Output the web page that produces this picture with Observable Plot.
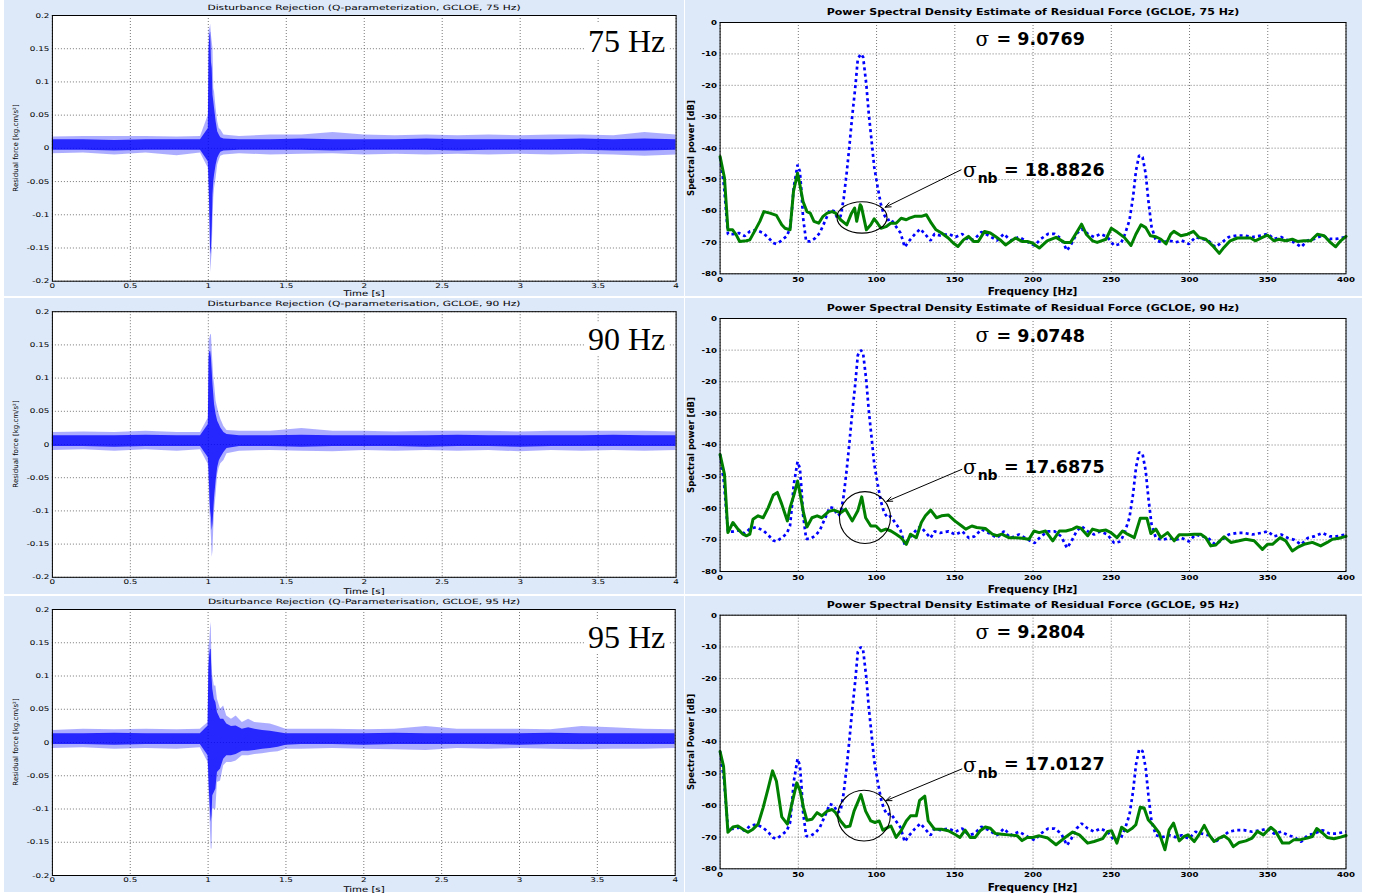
<!DOCTYPE html>
<html>
<head>
<meta charset="utf-8">
<script src="https://cdn.jsdelivr.net/npm/d3@7"></script>
<script src="https://cdn.jsdelivr.net/npm/@observablehq/plot@0.6"></script>
<style>
  body { margin: 0; background: #ffffff; }
  #root { position: relative; width: 1375px; height: 894px; overflow: hidden; background: #ffffff; }
  .lbl { position: absolute; white-space: nowrap; line-height: 1; color: #000; }
  .hzbox { position: absolute; background: #ffffff; font-family: "Liberation Serif", "DejaVu Serif", serif; font-size: 32px; line-height: 34px; padding: 0 3px; color: #000; white-space: nowrap; }
</style>
</head>
<body>
<div id="root"></div>
<script>
// ---------------- tick labels ----------------
const timeTicks  = [0, 0.5, 1, 1.5, 2, 2.5, 3, 3.5, 4];
const forceTicks = [-0.2, -0.15, -0.1, -0.05, 0, 0.05, 0.1, 0.15, 0.2];
const freqTicks  = [0, 50, 100, 150, 200, 250, 300, 350, 400];
const dbTicks    = [0, -10, -20, -30, -40, -50, -60, -70, -80];

// ---------------- texts ----------------
const leftTitles = [
  "Disturbance Rejection (Q-parameterization, GCLOE, 75 Hz)",
  "Disturbance Rejection (Q-parameterisation, GCLOE, 90 Hz)",
  "Dsiturbance Rejection (Q-Parameterisation, GCLOE, 95 Hz)"
];
const rightTitles = [
  "Power Spectral Density Estimate of Residual Force (GCLOE, 75 Hz)",
  "Power Spectral Density Estimate of Residual Force (GCLOE, 90 Hz)",
  "Power Spectral Density Estimate of Residual Force (GCLOE, 95 Hz)"
];
const hzLabels = ["75 Hz", "90 Hz", "95 Hz"];
const rightYLabels = ["Spectral power [dB]", "Spectral power [dB]", "Spectral Power [dB]"];
const sigmaValues = ["9.0769", "9.0748", "9.2804"];
const sigmaNbValues = ["18.8826", "17.6875", "17.0127"];

// ---------------- residual force envelopes (time domain) ----------------
const t75 = [0,0.2,0.4,0.6,0.8,0.95, 1.0,1.005,1.01,1.015,1.02,1.025,1.03,1.035,1.04,1.05,1.06,1.07,1.08,1.1, 1.2,1.4,1.6,1.8,2.0,2.2,2.4,2.6,2.8,3.0,3.2,3.4,3.6,3.8,4.0];
const hi75 = [0.017,0.018,0.018,0.018,0.017,0.018, 0.05,0.178,0.18,0.187,0.17,0.16,0.15,0.09,0.085,0.06,0.04,0.03,0.028,0.02, 0.018,0.02,0.02,0.024,0.02,0.019,0.02,0.019,0.02,0.019,0.02,0.02,0.019,0.024,0.02];
const lo75 = [-0.008,-0.007,-0.01,-0.007,-0.011,-0.007, -0.03,-0.07,-0.12,-0.187,-0.17,-0.155,-0.11,-0.075,-0.06,-0.045,-0.025,-0.018,-0.012,-0.01, -0.008,-0.01,-0.009,-0.008,-0.01,-0.009,-0.01,-0.009,-0.01,-0.009,-0.01,-0.009,-0.01,-0.012,-0.01];
const coreHi75 = [0.013,0.013,0.012,0.013,0.013,0.013, 0.03,0.15,0.17,0.175,0.13,0.12,0.08,0.07,0.06,0.04,0.025,0.02,0.016,0.014, 0.013,0.013,0.014,0.013,0.013,0.013,0.014,0.013,0.013,0.013,0.013,0.014,0.013,0.014,0.013];
const coreLo75 = [-0.003,-0.003,-0.004,-0.003,-0.003,-0.003, -0.02,-0.05,-0.1,-0.16,-0.15,-0.12,-0.07,-0.05,-0.04,-0.025,-0.015,-0.01,-0.006,-0.004, -0.003,-0.003,-0.003,-0.004,-0.003,-0.003,-0.003,-0.004,-0.003,-0.003,-0.003,-0.003,-0.004,-0.004,-0.003];

const t90 = [0,0.2,0.4,0.6,0.8,0.95, 1.0,1.005,1.01,1.015,1.02,1.025,1.03,1.035,1.04,1.05,1.06,1.07,1.08,1.1,1.12, 1.2,1.4,1.6,1.8,2.0,2.2,2.4,2.6,2.8,3.0,3.2,3.4,3.6,3.8,4.0];
const hi90 = [0.018,0.019,0.018,0.02,0.018,0.018, 0.04,0.156,0.16,0.165,0.166,0.14,0.121,0.1,0.091,0.065,0.055,0.045,0.038,0.027,0.021, 0.02,0.02,0.024,0.02,0.02,0.019,0.02,0.02,0.02,0.019,0.02,0.02,0.02,0.02,0.019];
const lo90 = [-0.009,-0.008,-0.01,-0.008,-0.01,-0.008, -0.03,-0.06,-0.1,-0.12,-0.14,-0.17,-0.16,-0.125,-0.1,-0.075,-0.045,-0.035,-0.029,-0.024,-0.014, -0.01,-0.009,-0.01,-0.011,-0.009,-0.01,-0.009,-0.01,-0.009,-0.011,-0.009,-0.01,-0.009,-0.01,-0.009];
const coreHi90 = [0.013,0.013,0.013,0.014,0.013,0.013, 0.03,0.13,0.14,0.14,0.13,0.11,0.09,0.075,0.06,0.045,0.035,0.03,0.025,0.018,0.015, 0.013,0.013,0.014,0.013,0.013,0.013,0.013,0.014,0.013,0.013,0.013,0.013,0.014,0.013,0.013];
const coreLo90 = [-0.003,-0.003,-0.004,-0.003,-0.003,-0.003, -0.02,-0.04,-0.08,-0.1,-0.11,-0.13,-0.12,-0.1,-0.08,-0.055,-0.035,-0.025,-0.02,-0.012,-0.006, -0.003,-0.003,-0.004,-0.003,-0.003,-0.003,-0.004,-0.003,-0.003,-0.004,-0.003,-0.003,-0.003,-0.003,-0.003];

const t95 = [0,0.2,0.4,0.6,0.8,0.95, 1.0,1.005,1.01,1.015,1.02,1.025,1.03,1.04,1.05,1.06,1.08,1.1,1.12,1.15,1.18,1.22,1.26,1.3,1.35,1.4,1.45,1.5, 1.6,1.8,2.0,2.2,2.4,2.6,2.8,3.0,3.2,3.4,3.6,3.8,4.0];
const hi95 = [0.018,0.02,0.019,0.02,0.019,0.02, 0.03,0.145,0.15,0.17,0.181,0.12,0.1,0.085,0.085,0.065,0.05,0.055,0.04,0.035,0.04,0.03,0.035,0.03,0.029,0.028,0.024,0.02, 0.02,0.02,0.019,0.02,0.024,0.02,0.02,0.02,0.019,0.024,0.022,0.02,0.019];
const lo95 = [-0.009,-0.008,-0.01,-0.009,-0.01,-0.008, -0.03,-0.07,-0.1,-0.13,-0.16,-0.16,-0.1,-0.1,-0.1,-0.06,-0.058,-0.035,-0.03,-0.03,-0.028,-0.02,-0.02,-0.018,-0.017,-0.015,-0.014,-0.01, -0.01,-0.009,-0.01,-0.011,-0.012,-0.009,-0.01,-0.009,-0.01,-0.011,-0.01,-0.01,-0.009];
const coreHi95 = [0.013,0.013,0.014,0.013,0.013,0.013, 0.025,0.11,0.13,0.14,0.14,0.1,0.08,0.065,0.06,0.045,0.035,0.035,0.028,0.024,0.025,0.02,0.022,0.02,0.018,0.017,0.015,0.013, 0.013,0.013,0.013,0.014,0.013,0.013,0.013,0.013,0.014,0.013,0.013,0.013,0.013];
const coreLo95 = [-0.003,-0.003,-0.004,-0.003,-0.003,-0.003, -0.02,-0.05,-0.08,-0.1,-0.12,-0.11,-0.08,-0.075,-0.07,-0.045,-0.04,-0.025,-0.02,-0.02,-0.018,-0.013,-0.013,-0.012,-0.01,-0.009,-0.007,-0.004, -0.003,-0.003,-0.004,-0.003,-0.003,-0.003,-0.003,-0.004,-0.003,-0.003,-0.003,-0.003,-0.003];

// ---------------- PSD: uncontrolled disturbance (blue dotted, same in all panels) ----------------
const blueFreq = [0,2.5,5,8,12,15.7,19,23,27.5,31,34,36,39,42.6,44.7,46,47,48.6,49.5,51,52,53,55,57.6,61,63.7,66,68.4,70,72.7,75,77,79,81,82.5,84.4,86.4,88,90,91.4,93.4,95,97,98.5,100.7,102.7,104.6,106.9,109,112.5,115.3,118,121,124.6,128,130.8,134.5,137,140.6,146,150.5,154.7,159,162.6,167,171.6,177,181.4,185.6,191,197,201,205,209.6,213.8,218,221.7,224.5,227.8,231,235,239,243,247.5,251.8,256,258.8,261.6,263.9,265.8,267.8,270,272,273.7,275.7,278.5,282.7,287,291,295,299.6,303.8,308,312,316.5,320.7,325,330.5,334.7,340,346,350,354,358.6,362.9,367,371.3,375.5,379.7,385,389.6,393.8,400];
const blueDb = [-43,-52,-67.4,-67.4,-67,-68,-66.5,-66,-67,-68.6,-70.2,-70.5,-69.5,-68,-65.5,-59,-52.7,-48,-45.3,-47.4,-53.8,-62,-69.7,-69.7,-68.6,-67,-64.4,-61.7,-59.6,-60,-62.3,-61.7,-56,-47.4,-40,-30,-20.6,-11.6,-10,-11,-19.5,-29,-38.6,-46,-52.4,-57.7,-61,-63,-62.5,-65,-67,-71.5,-69.4,-67.3,-65.7,-67.3,-69.4,-67.3,-67.8,-67.3,-68.3,-67.3,-69.4,-68.9,-66.7,-67.8,-69.4,-67.3,-69.4,-68.3,-70,-71,-68.9,-67.3,-67.3,-68.9,-72.6,-70.5,-67.3,-65.7,-67.3,-68.3,-67.3,-68.3,-71,-70.5,-67.3,-63,-55.6,-47.1,-42.3,-42.9,-48.2,-56.7,-65,-69.4,-70,-69.4,-70,-69.4,-70.5,-68.3,-68.9,-69.4,-71.5,-70,-68.3,-67.8,-67.8,-68.3,-67.8,-67.3,-68.9,-68.3,-69.4,-70,-71.5,-69.4,-68.9,-67.8,-68.9,-68.9,-68.3];

// ---------------- PSD: residual force with controller (green) ----------------
const green75Freq = [0,2.8,5,8,10.3,12.5,16.8,19,22,25.4,28,31.8,36,39.4,41.5,44.7,46.9,49.5,51,53,55.5,57.6,60,63,65.8,68.4,71.6,73.8,77,81,84,86,87.3,89.5,90.3,93.5,96.3,98.5,100.6,102.8,106,109,112.5,115.7,119,121,124.3,128.6,131.8,135,138,141.5,145.8,149,152,155.5,158.7,162,165,169,172.7,176,179,182.4,185.6,188.8,193,196.3,199.6,201.7,204,209,214.7,220,224,228.5,231,234,238,241,246.6,250,254,258.3,262.6,265.7,269,272,275,278.5,281.7,285,288,290,294.5,298.7,302.6,306,310.4,314.7,319,322,326,330.6,335,339,342,346.6,349.8,354,357,361.5,365.7,369,373,377.4,381.7,386,390,393.4,396.6,400];
const green75Db = [-42.7,-49.5,-66,-66,-67.6,-69.7,-69.5,-69.2,-66.5,-63.3,-60.2,-60.7,-61.4,-64.4,-65.5,-66,-53.8,-48,-51.7,-57,-60.2,-60.7,-63.3,-63.9,-61.7,-60.7,-60.2,-60.7,-62.8,-64.4,-60.7,-59.1,-63.3,-58,-58.6,-66,-64.4,-62.5,-63.9,-65.5,-65,-63.9,-63.9,-62.3,-62.8,-62.3,-61.7,-61.7,-61.2,-63.9,-66,-67,-68.6,-70.2,-71.3,-69.2,-68.1,-69.7,-69.7,-66.5,-67,-68.1,-69.2,-70.8,-69.7,-68.6,-69.7,-69.7,-70.2,-71,-71.8,-69.5,-68.4,-70,-70,-66.3,-64.2,-67.4,-69.5,-70,-69,-65.5,-66.8,-68.4,-71,-67.4,-64.4,-65.3,-67.9,-68.2,-69,-70.5,-67.4,-66.5,-67.9,-67.4,-66.5,-68.4,-69,-71,-73.5,-71.6,-69.5,-68.6,-68.6,-68.6,-69.5,-68.4,-67.7,-69.5,-69,-69.5,-69,-69.7,-69.5,-69.5,-67.4,-67.9,-70,-71.4,-69.5,-68.1];

const green90Freq = [0,2.8,5,8.2,11.4,14.6,16.8,19,21,24.3,27.5,30.8,34,36.6,39.4,43,44.7,47.3,49.5,51.2,53.3,55.5,58.7,62,65,69.5,72.7,77,80.2,84.5,88,90.5,93,96.3,99.6,102.8,106,109.2,112.5,115.7,119,121.7,125.4,128.6,131.2,134.6,138.3,141.5,145.8,150,154.4,157,160.9,164,169.5,174,177,180,184.5,188.8,193,197.4,200.6,203.9,208,212.6,216.8,221,225.3,228,230.6,234.9,238,242.3,246.6,249.8,253.6,257.2,260.4,264.7,268.5,272.8,275.3,278.5,281.7,286,290.2,293.4,298.7,303,307.2,310.4,313.6,316.8,322,326.4,331.7,336,341.3,346.6,349.8,353,357.9,361.5,365.7,369,373.2,378.5,383.8,388,391.3,395.5,400];
const green90Db = [-43,-49.3,-67.7,-64.5,-66.6,-68.2,-68.7,-68.2,-63.5,-62.4,-63,-59.8,-55.8,-55,-58.7,-64,-59.8,-55.6,-51.4,-55.6,-61.4,-65.9,-63,-62.4,-63,-61,-60.6,-61.4,-60.3,-64,-60.8,-56.4,-63,-65.6,-65.6,-67.2,-66.6,-67.2,-68.2,-69.3,-71.4,-68.2,-69.3,-64.5,-62.4,-60.6,-63,-62.4,-62.1,-64,-65.6,-66.6,-65.6,-66.1,-66.4,-68.2,-68.7,-68.2,-69.3,-69.3,-69.5,-69.8,-67.2,-67.7,-67.2,-70.3,-67.2,-67.2,-66.6,-65.9,-66.3,-68.7,-66.6,-67.2,-66.9,-67.7,-69.3,-67.2,-68.2,-69.3,-63.2,-63.2,-68,-66.6,-69.3,-67.7,-70.3,-68.4,-68.4,-68.2,-68.2,-69.3,-71.9,-71.6,-69,-70.8,-70.3,-69.8,-70.3,-73,-71.4,-71.4,-69.3,-70.3,-73.5,-72.4,-71.4,-70.8,-71.9,-70.8,-69.8,-69.5,-68.9];

const green95Freq = [0,2.2,5,8.2,11.4,14.6,17.8,21,24.3,27.5,30.8,33.5,36,39.4,43,45.8,49,51.2,53.3,55.5,58.7,62,65,68.4,71.6,73.8,77,80.2,83,85.6,90,93,96.3,99,101.7,104,107,109.2,112.5,115.7,119,121.7,125.4,127.5,130.8,133,137,141.5,145.8,150,153.3,156.6,159.8,163,166.2,169.5,172.7,176,180,184.5,190,193,196.3,199.6,204,209.4,214.7,220,225.3,229.6,234.9,239,244.5,247.7,250.2,253.6,256.6,260.4,263.6,265.7,268.5,271,273.6,277.4,280.6,284.3,287,289.8,293.4,296.6,299,303,306,309.4,312.6,315.7,319,322,325.3,328,331.7,336,340,343.4,347.2,352,355,359.4,363.6,366.8,371,375.3,378.5,381.3,385,388,392.3,396.6,400];
const green95Db = [-43,-47.7,-68.5,-66.8,-66.5,-67.5,-68.5,-67.5,-65.9,-60.7,-54.5,-49.1,-52.4,-63.6,-65.9,-59.7,-52.9,-55.5,-60.7,-64.7,-64.4,-62.3,-63.3,-61.8,-61.3,-62.3,-64.9,-66.8,-66.5,-61.8,-56.6,-61.8,-64.9,-65.4,-64.9,-67.8,-67,-66.5,-70.1,-68,-64.9,-63.3,-63.3,-58.4,-57.1,-64.9,-67.5,-67.5,-68,-69.1,-70.1,-67.8,-70.1,-70.1,-68,-66.8,-67.2,-68.9,-69.1,-69.3,-69.6,-71.1,-70.1,-70.1,-69.6,-70.3,-72.4,-70.3,-68.4,-69.3,-71.9,-71.4,-70.5,-68.2,-68,-71.9,-66.9,-68.2,-67.1,-66.1,-60.6,-60.8,-64.5,-66.6,-68.7,-74,-67.7,-65.6,-71.2,-69.8,-69.3,-71.4,-69.3,-66.3,-69.3,-71.4,-70.3,-69.6,-70.8,-73,-71.7,-71.2,-70.3,-68.2,-69.3,-66.9,-68.2,-71.9,-71.9,-70.8,-70.8,-70.3,-69.8,-67.3,-68.7,-70.1,-70.5,-70,-69.5];

// ---------------- annotations (data coordinates) ----------------
const ellipseFreq = [91, 92.9, 92.3];
const ellipseDb = [-62.2, -63.1, -63.4];
const ellipseHalfWidthHz = [16, 16.3, 16.8];
const ellipseHalfHeightDb = [5, 8.2, 8];
const arrowFromFreq = [154, 154.5, 154.5];
const arrowFromDb = [-46.9, -47.7, -48.5];
const arrowToFreq = [105.5, 106.5, 106];
const arrowToDb = [-58.8, -57.8, -58.5];

// ---------------- drawing ----------------
const root = document.getElementById("root");
const BG = "#dde8f8";

function addLabel(text, x, y, o) {
  const d = document.createElement("div");
  d.className = "lbl";
  d.textContent = text;
  d.style.left = x + "px";
  d.style.top = y + "px";
  d.style.fontFamily = o.family || '"DejaVu Sans", sans-serif';
  d.style.fontSize = o.size + "px";
  d.style.fontWeight = o.weight || "normal";
  d.style.transform = `translate(-50%,-50%)${o.rotate ? ` rotate(${o.rotate}deg)` : ""} scaleX(${o.sx || 1})`;
  root.appendChild(d);
  return d;
}

function stretchTicks(svg, sx) {
  svg.querySelectorAll('[aria-label*="axis"] text').forEach(t => {
    const tr = t.getAttribute("transform") || "";
    t.setAttribute("transform", (tr + ` scale(${sx},1)`).trim());
  });
}

const leftLayout = [
  {top: 0,   mt: 15,   mb: 15.3, mr: 8.4},
  {top: 298, mt: 13.2, mb: 17.2, mr: 8.4},
  {top: 596, mt: 13,   mb: 17,   mr: 9.3}
];
const timeSeries = [
  [t75, hi75, lo75, coreHi75, coreLo75],
  [t90, hi90, lo90, coreHi90, coreLo90],
  [t95, hi95, lo95, coreHi95, coreLo95]
];

leftLayout.forEach((L, i) => {
  const [T, H, Lo, CH, CL] = timeSeries[i];
  const rows = T.map((t, k) => ({t, hi: H[k], lo: Lo[k], ch: CH[k], cl: CL[k]}));
  const svg = Plot.plot({
    width: 680, height: 296,
    marginLeft: 47.9, marginRight: L.mr, marginTop: L.mt, marginBottom: L.mb,
    style: {background: BG, fontFamily: '"DejaVu Sans", sans-serif', fontSize: "6.5px", color: "#000", overflow: "visible"},
    x: {domain: [0, 4], ticks: timeTicks, tickFormat: d => String(d), tickSize: 0, tickPadding: 2, label: null},
    y: {domain: [-0.2, 0.2], ticks: forceTicks, tickFormat: d => String(d), tickSize: 0, tickPadding: 3, label: null},
    marks: [
      Plot.frame({fill: "#ffffff"}),
      Plot.ruleX(timeTicks, {stroke: "#555", strokeWidth: 0.8, strokeDasharray: "1,2"}),
      Plot.ruleY(forceTicks, {stroke: "#555", strokeWidth: 0.8, strokeDasharray: "1,2"}),
      Plot.areaY(rows, {x: "t", y1: "lo", y2: "hi", fill: "#0000ff", fillOpacity: 0.32}),
      Plot.areaY(rows, {x: "t", y1: "cl", y2: "ch", fill: "#0000ff", fillOpacity: 0.78}),
      Plot.frame({stroke: "#000", strokeWidth: 1})
    ]
  });
  svg.style.position = "absolute";
  svg.style.left = "4px";
  svg.style.top = L.top + "px";
  stretchTicks(svg, 1.35);
  root.appendChild(svg);

  const yTop = L.top + L.mt, yBot = L.top + 296 - L.mb;
  addLabel(leftTitles[i], 363.5, L.top + L.mt - 6.8, {size: 7.2, sx: 1.48});
  addLabel("Time [s]", 363.5, L.top + 293.5, {size: 7.8, sx: 1.3});
  addLabel("Residual force [kg.cm/s²]", 16, (yTop + yBot) / 2, {size: 7, rotate: -90});
  const hz = document.createElement("div");
  hz.className = "hzbox";
  hz.textContent = hzLabels[i];
  hz.style.left = "585px";
  hz.style.top = (L.top + 24) + "px";
  root.appendChild(hz);
});

const rightLayout = [
  {top: 0,   mt: 22,   mb: 22.7},
  {top: 298, mt: 20,   mb: 23},
  {top: 596, mt: 18.7, mb: 23.7}
];
const greenSeries = [
  [green75Freq, green75Db],
  [green90Freq, green90Db],
  [green95Freq, green95Db]
];
const blueRows = blueFreq.map((f, k) => ({f, db: blueDb[k]}));

rightLayout.forEach((R, i) => {
  const [GF, GD] = greenSeries[i];
  const greenRows = GF.map((f, k) => ({f, db: GD[k]}));
  const arrows = [{f1: arrowFromFreq[i], d1: arrowFromDb[i], f2: arrowToFreq[i], d2: arrowToDb[i]}];
  const sigmaGlyph = [{f: 163.3, d: -5.5, s: "σ"}, {f: 155.3, d: -47.3, s: "σ"}];
  const sigmaText = [{f: 176.7, d: -5.5, s: "= " + sigmaValues[i]}, {f: 181.5, d: -47.1, s: "= " + sigmaNbValues[i]}];
  const sub = [{f: 164.6, d: -49.8, s: "nb"}];
  const svg = Plot.plot({
    width: 677, height: 296,
    marginLeft: 34.6, marginRight: 16.5, marginTop: R.mt, marginBottom: R.mb,
    style: {background: BG, fontFamily: '"DejaVu Sans", sans-serif', fontSize: "7.5px", fontWeight: "bold", color: "#000", overflow: "visible"},
    x: {domain: [0, 400], ticks: freqTicks, tickFormat: d => String(d), tickSize: 0, tickPadding: 3, label: null},
    y: {domain: [-80, 0], ticks: dbTicks, tickFormat: d => String(d), tickSize: 0, tickPadding: 3, label: null},
    marks: [
      Plot.frame({fill: "#ffffff"}),
      Plot.ruleX(freqTicks, {stroke: "#555", strokeWidth: 0.8, strokeDasharray: "1,2"}),
      Plot.ruleY(dbTicks, {stroke: "#555", strokeWidth: 0.8, strokeDasharray: "1,2"}),
      Plot.line(blueRows, {x: "f", y: "db", stroke: "#0000ff", strokeWidth: 2.7, strokeDasharray: "3,3.2", strokeLinecap: "butt", strokeLinejoin: "miter"}),
      Plot.line(greenRows, {x: "f", y: "db", stroke: "#008000", strokeWidth: 3, strokeLinejoin: "round"}),
      Plot.arrow(arrows, {x1: "f1", y1: "d1", x2: "f2", y2: "d2", stroke: "#000", strokeWidth: 1, headLength: 9, headAngle: 45}),
      Plot.text(sigmaGlyph, {x: "f", y: "d", text: "s", textAnchor: "start", fontFamily: '"DejaVu Serif", serif', fontSize: 20, fontWeight: "normal", fill: "#000"}),
      Plot.text(sigmaText, {x: "f", y: "d", text: "s", textAnchor: "start", fontSize: 17.5, fontWeight: "bold", fill: "#000"}),
      Plot.text(sub, {x: "f", y: "d", text: "s", textAnchor: "start", fontSize: 14, fontWeight: "bold", fill: "#000"}),
      Plot.frame({stroke: "#000", strokeWidth: 1})
    ]
  });
  svg.style.position = "absolute";
  svg.style.left = "685px";
  svg.style.top = R.top + "px";
  stretchTicks(svg, 1.15);

  // ellipse around the narrow-band region, placed through the plot's own scales
  const sx = svg.scale("x"), sy = svg.scale("y");
  const cx = sx.apply(ellipseFreq[i]), cy = sy.apply(ellipseDb[i]);
  const rx = Math.abs(sx.apply(ellipseFreq[i] + ellipseHalfWidthHz[i]) - cx);
  const ry = Math.abs(sy.apply(ellipseDb[i] + ellipseHalfHeightDb[i]) - cy);
  const el = document.createElementNS("http://www.w3.org/2000/svg", "ellipse");
  el.setAttribute("cx", cx); el.setAttribute("cy", cy);
  el.setAttribute("rx", rx); el.setAttribute("ry", ry);
  el.setAttribute("fill", "none"); el.setAttribute("stroke", "#000"); el.setAttribute("stroke-width", "1.1");
  svg.appendChild(el);
  root.appendChild(svg);

  const yTop = R.top + R.mt, yBot = R.top + 296 - R.mb;
  addLabel(rightTitles[i], 1032.5, R.top + R.mt - 10, {size: 9.5, weight: "bold", sx: 1.16});
  addLabel("Frequency [Hz]", 1032.5, R.top + 290.5, {size: 10.5, weight: "bold"});
  addLabel(rightYLabels[i], 691, (yTop + yBot) / 2, {size: 8.5, weight: "bold", rotate: -90});
});
</script>
</body>
</html>
